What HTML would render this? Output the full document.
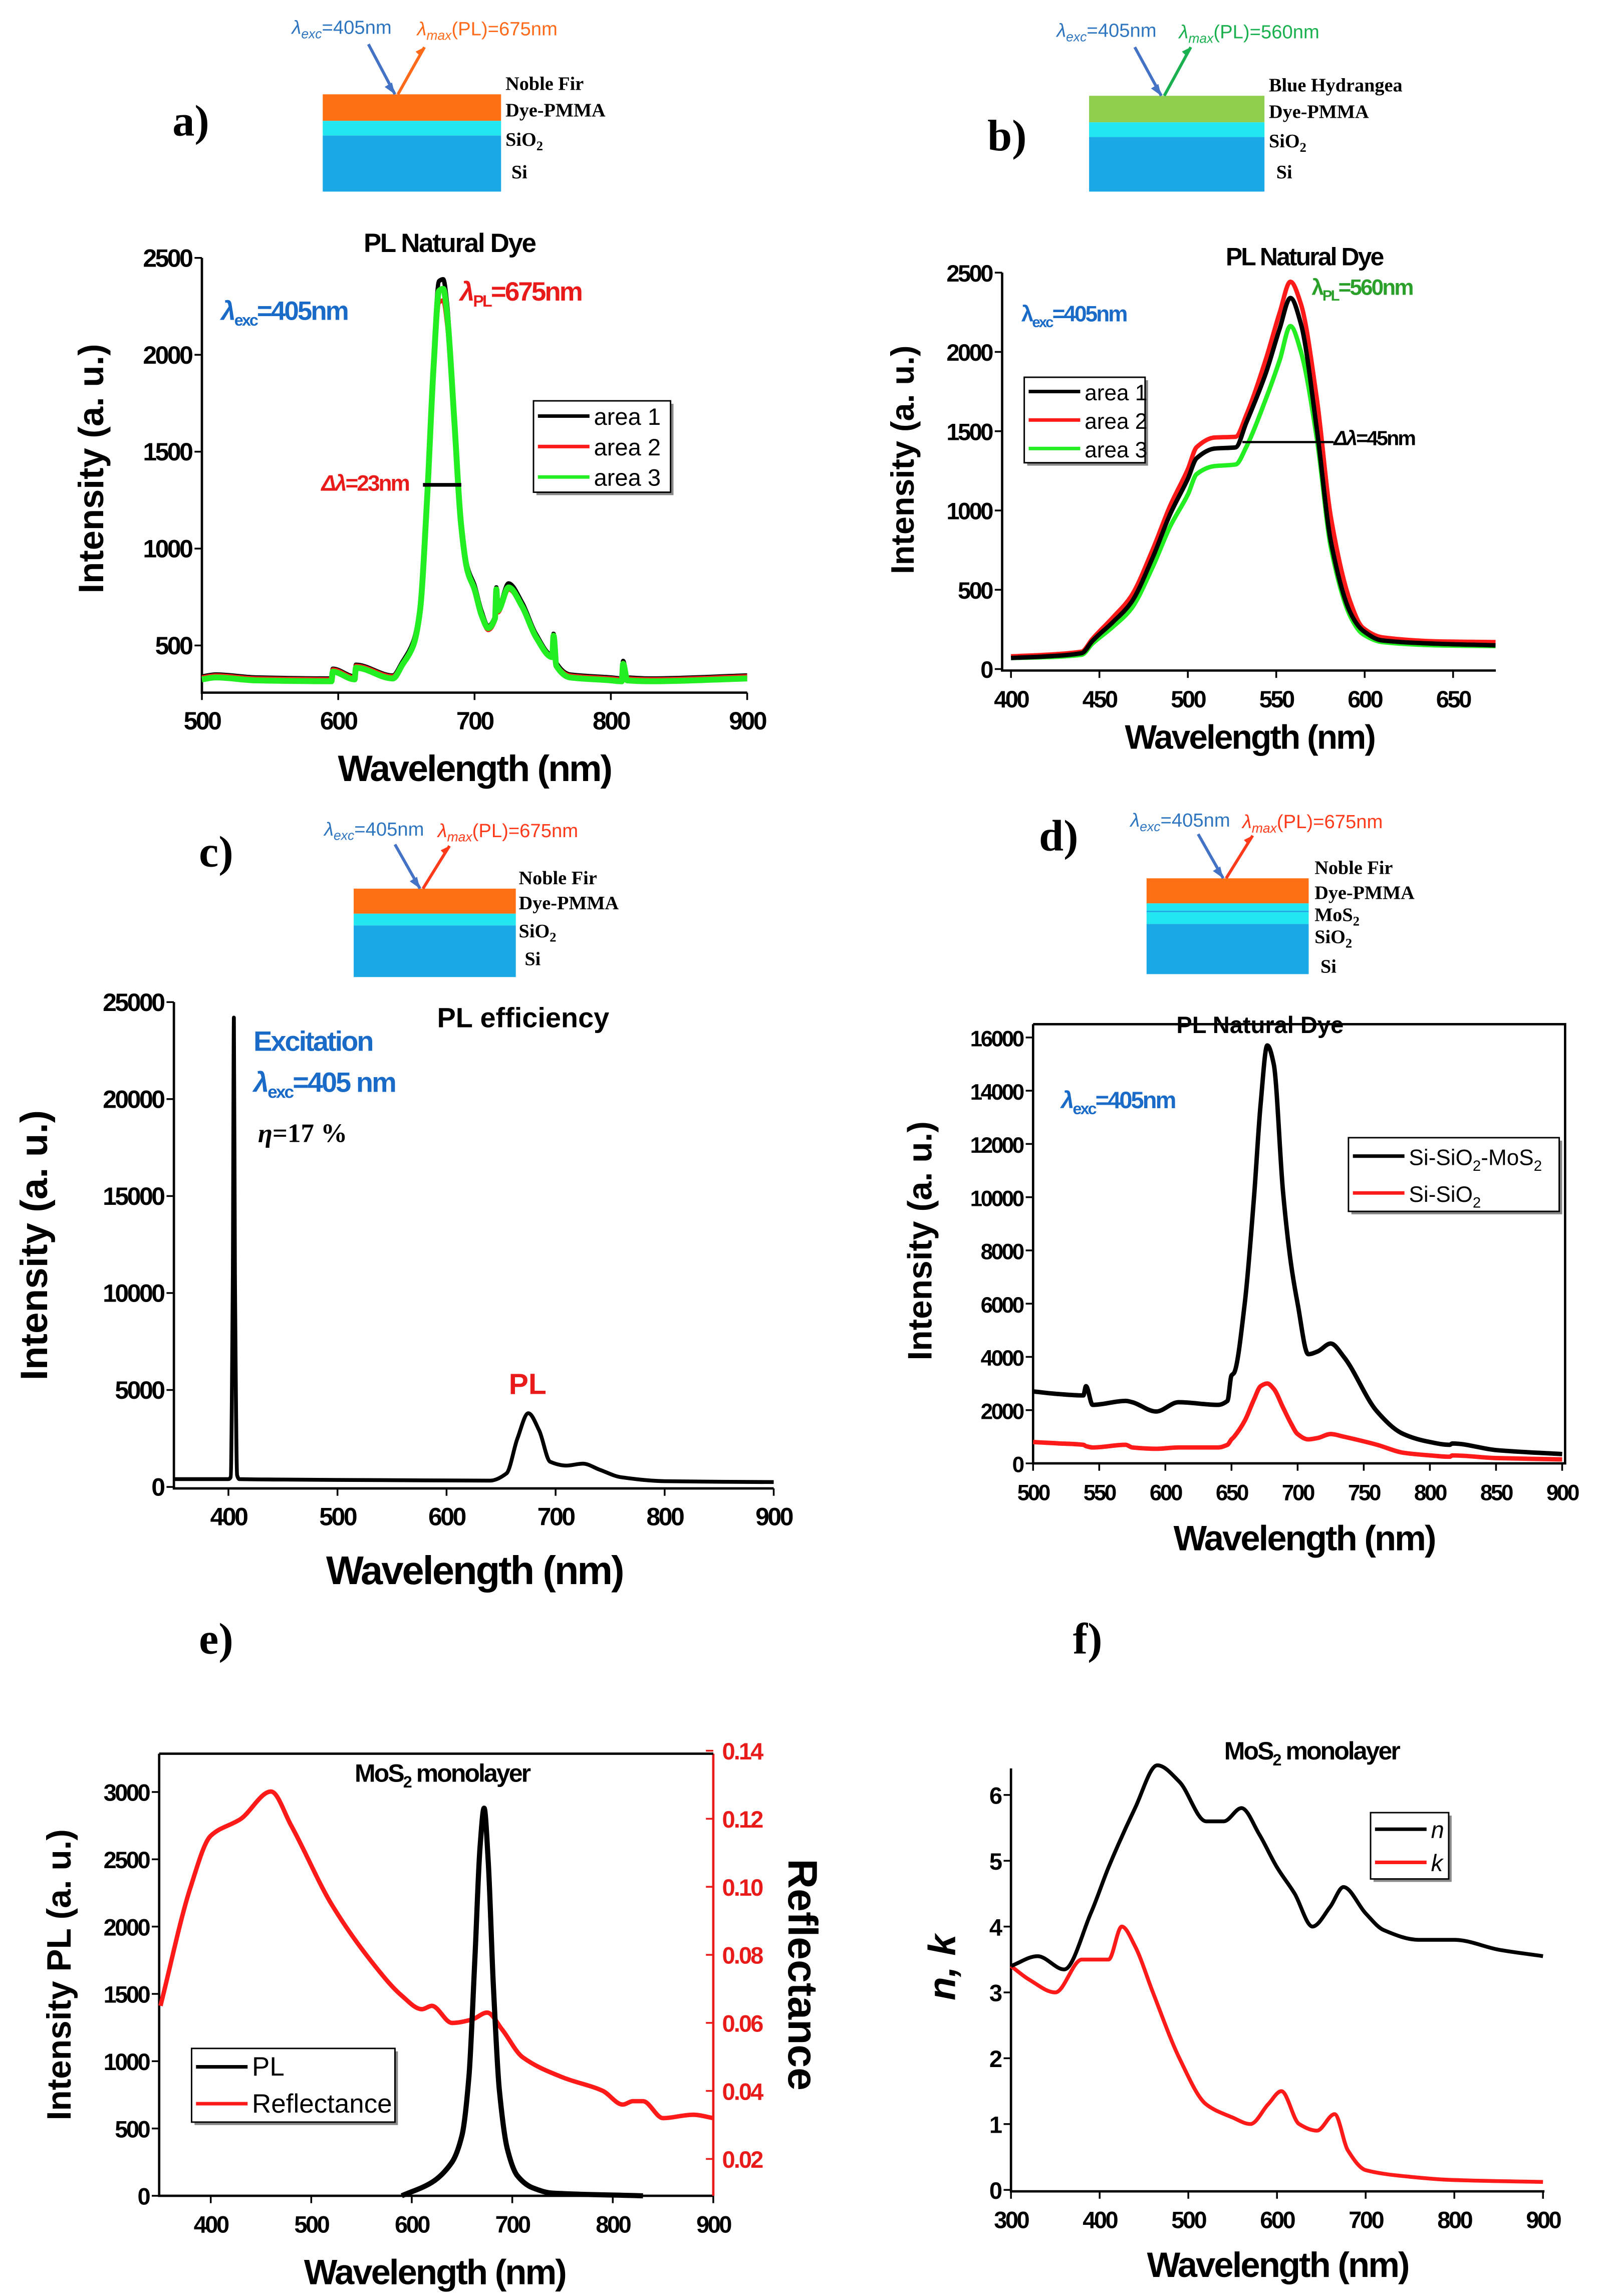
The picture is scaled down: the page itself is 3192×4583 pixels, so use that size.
<!DOCTYPE html>
<html><head><meta charset="utf-8">
<style>
html,body{margin:0;padding:0;background:#fff;}
svg{display:block;font-family:"Liberation Sans",Arial,sans-serif;}
.serif{font-family:"Liberation Serif",serif;}
</style></head>
<body>
<svg id="fig" width="3192" height="4583" viewBox="0 0 1085 1558" preserveAspectRatio="none" xmlns="http://www.w3.org/2000/svg"></svg>
<script>
// ---------- DATA ----------
const aX1=[500,510,540,595,596,612,613,640,647,655,660,665,670,674,677,680,685,690,695,700,705,710,715,716,717,725,735,745,757,758,760,770,800,808,809,812,830,900];
const aY1=[340,350,335,330,380,340,400,345,415,520,700,1250,2000,2380,2390,2250,1700,1150,900,810,680,600,650,800,690,820,720,560,450,560,410,350,335,330,420,335,330,345];
const aY2=[335,345,330,325,375,335,395,340,405,500,670,1200,1900,2270,2280,2150,1650,1120,880,790,660,580,630,780,670,790,700,545,440,550,400,345,330,325,410,330,325,340];
const aY3=[325,335,320,315,365,325,385,330,400,500,680,1230,1950,2330,2340,2200,1680,1130,880,790,660,590,640,790,680,800,700,545,440,550,395,335,320,315,405,320,315,330];
const bX=[400,420,440,446,458,468,480,490,500,505,515,527,533,544,552,558,564,573,581,592,599,610,640,674];
const bY1=[70,80,100,177,300,420,700,977,1200,1330,1390,1398,1552,1862,2150,2340,2175,1508,797,353,243,180,160,150];
const bY2=[80,90,110,190,330,460,750,1030,1260,1400,1460,1465,1600,1950,2250,2442,2300,1700,950,420,260,200,175,170];
const bY3=[70,75,90,160,270,380,640,900,1100,1230,1280,1290,1400,1700,1950,2163,2000,1450,760,330,220,170,150,145];
const cX=[350,400,402,404,405,406,408,410,450,550,640,655,665,675,685,695,710,725,740,760,800,900];
const cY=[400,400,500,11000,24200,11000,600,400,380,350,330,700,2500,3800,2900,1300,1100,1200,900,500,300,250];
const dX=[500,520,538,540,545,570,575,593,610,640,647,650,652,660,667,672,677,682,689,695,700,708,715,725,735,760,780,800,815,817,850,900];
const dBlack=[2700,2600,2550,2900,2200,2350,2300,1950,2300,2200,2350,3300,3400,6000,10000,13500,15700,15000,10200,7500,6000,4100,4200,4500,4000,1950,1100,800,700,750,500,350];
const dRed=[800,750,700,650,600,700,600,550,600,600,700,900,1000,1600,2400,2900,3000,2800,2100,1500,1100,900,950,1100,1000,700,400,300,250,300,200,150];
const ePLx=[590,620,640,650,657,663,668,672,676,681,687,695,705,720,740,830];
const ePLy=[0,100,250,450,900,1800,2600,2880,2500,1600,800,350,150,60,20,0];
const eRx=[350,380,400,430,460,480,520,560,590,610,620,640,660,675,690,710,750,790,810,820,830,850,880,900];
const eRy=[0.065,0.10,0.115,0.12,0.128,0.118,0.095,0.078,0.068,0.064,0.065,0.06,0.061,0.063,0.058,0.05,0.044,0.04,0.036,0.037,0.037,0.032,0.033,0.032];
const fNx=[300,330,360,390,410,440,465,490,520,540,560,580,600,620,640,660,675,700,720,760,800,850,900];
const fNy=[3.4,3.55,3.35,4.2,4.9,5.8,6.45,6.2,5.6,5.6,5.8,5.4,4.9,4.5,4.0,4.3,4.6,4.2,3.95,3.8,3.8,3.65,3.55];
const fKx=[300,320,350,380,410,425,440,460,490,520,550,570,590,605,625,645,665,680,700,750,800,900];
const fKy=[3.4,3.2,3.0,3.5,3.5,4.0,3.7,3.0,2.0,1.3,1.1,1.0,1.3,1.5,1.0,0.9,1.15,0.6,0.3,0.2,0.15,0.12];
const aXt=[500,600,700,800,900], aYt=[500,1000,1500,2000,2500];
const bXt=[400,450,500,550,600,650], bYt=[0,500,1000,1500,2000,2500];
const cXt=[400,500,600,700,800,900], cYt=[0,5000,10000,15000,20000,25000];
const dXt=[500,550,600,650,700,750,800,850,900], dYt=[0,2000,4000,6000,8000,10000,12000,14000,16000];
const eXt=[400,500,600,700,800,900], eYt=[0,500,1000,1500,2000,2500,3000], eRt=[0.02,0.04,0.06,0.08,0.10,0.12,0.14];
const fXt=[300,400,500,600,700,800,900], fYt=[0,1,2,3,4,5,6];

// ---------- HELPERS ----------
const NS="http://www.w3.org/2000/svg";
const svg=document.getElementById('fig');
function mk(tag,attrs,parent){const e=document.createElementNS(NS,tag);for(const k in attrs)e.setAttribute(k,attrs[k]);(parent||svg).appendChild(e);return e;}
function lin(v0,p0,v1,p1){return v=>p0+(v-v0)*(p1-p0)/(v1-v0);}
function txt(x,y,s,opt,name){const t=mk('text',Object.assign({x:x,y:y,'font-size':16,'font-weight':'bold'},opt||{}));t.innerHTML=s;


return t;}
function axes(p){
 const g=mk('g',{});
 
 
 const b=p.box;
 mk('path',{d:`M${b.l},${b.t}V${b.b}H${b.r}`+(p.full?`V${b.t}H${b.l}`:''),fill:'none',stroke:'#000','stroke-width':1.6},g);
 p.xt.forEach(v=>{const x=p.sx(v);mk('line',{x1:x,x2:x,y1:b.b,y2:b.b+5,stroke:'#000','stroke-width':1.2},g);
  const t=txt(x,b.b+25,v,{'text-anchor':'middle','font-size':p.fs||17,'letter-spacing':-1.2},p.name+'-x-tick');g.appendChild(t);});
 p.yt.forEach(v=>{const y=p.sy(v);mk('line',{x1:b.l,x2:b.l-5,y1:y,y2:y,stroke:'#000','stroke-width':1.2},g);
  const t=txt(b.l-7,y+6,v,{'text-anchor':'end','font-size':p.fs||17,'letter-spacing':-1.2},p.name+'-y-tick');g.appendChild(t);});
 return g;}
function smoothPath(P){
 const n=P.length;if(n<2)return '';
 const d=[],m=[];
 for(let i=0;i<n-1;i++)d.push((P[i+1][1]-P[i][1])/(P[i+1][0]-P[i][0]||1e-6));
 m[0]=d[0];m[n-1]=d[n-2];
 for(let i=1;i<n-1;i++)m[i]=(d[i-1]*d[i]<=0)?0:2/(1/d[i-1]+1/d[i]);
 let s='M'+P[0][0].toFixed(1)+','+P[0][1].toFixed(1);
 for(let i=0;i<n-1;i++){const h=(P[i+1][0]-P[i][0])/3;
  s+=`C${(P[i][0]+h).toFixed(1)},${(P[i][1]+m[i]*h).toFixed(1)} ${(P[i+1][0]-h).toFixed(1)},${(P[i+1][1]-m[i+1]*h).toFixed(1)} ${P[i+1][0].toFixed(1)},${P[i+1][1].toFixed(1)}`;}
 return s;}
function line(xs,ys,sx,sy,color,name,w){
 const P=xs.map((x,i)=>[sx(x),sy(ys[i])]);
 const l=mk('path',{d:smoothPath(P),fill:'none',stroke:color,'stroke-width':w||2.4,'stroke-linejoin':'round'});
 
 
 return l;}
function legend(x,y,w,h,items,name,fs){
 const g=mk('g',{});
 
 
 mk('rect',{x:x+2,y:y+2,width:w,height:h,fill:'#888'},g);
 mk('rect',{x:x,y:y,width:w,height:h,fill:'#fff',stroke:'#000','stroke-width':1},g);
 const step=h/items.length;
 items.forEach((it,i)=>{const yy=y+step*(i+0.5);
  mk('line',{x1:x+3,x2:x+38,y1:yy,y2:yy,stroke:it[1],'stroke-width':2.4},g);
  const t=txt(x+41,yy+6,it[0],{'font-weight':'normal','font-size':fs||16},name+'-entry');g.appendChild(t);});
 return g;}
function diagram(d){
 const g=mk('g',{});
 
 
 let y=d.y0;
 d.layers.forEach(L=>{mk('rect',{x:d.x0,y:y,width:d.w,height:L[1],fill:L[0],stroke:'none'},g);y+=L[1];});
 d.labels.forEach(L=>{const t=txt(L[0],L[1],L[2],{'font-size':13,class:'serif'},d.name+'-label');g.appendChild(t);});
 const ax=d.ax;
 mk('line',{x1:ax[0],y1:ax[1],x2:ax[2],y2:ax[3],stroke:'#4472c4','stroke-width':2},g);
 mk('path',{d:`M${ax[2]},${ax[3]}l-7,-5l5,-3z`,fill:'#4472c4'},g);
 mk('line',{x1:ax[2]+2,y1:ax[3],x2:ax[4],y2:ax[5],stroke:d.c2,'stroke-width':2},g);
 mk('path',{d:`M${ax[4]},${ax[5]}l-6,3l3,3z`,fill:d.c2},g);
 const t1=txt(d.t1[0],d.t1[1],'<tspan font-style="italic">λ</tspan><tspan font-size="9" dy="3" font-style="italic">exc</tspan><tspan dy="-3">=405nm</tspan>',{fill:'#2e75c0','font-weight':'normal','font-size':13},d.name+'-exc-text');g.appendChild(t1);
 const t2=txt(d.t2[0],d.t2[1],'<tspan font-style="italic">λ</tspan><tspan font-size="9" dy="3" font-style="italic">max</tspan><tspan dy="-3">(PL)='+d.pl+'</tspan>',{fill:d.c2,'font-weight':'normal','font-size':13},d.name+'-pl-text');g.appendChild(t2);
}
function ylabel(x,cy,s,name,fs,rot){const t=txt(x,cy,s,{'text-anchor':'middle','font-size':fs||24,transform:`rotate(${rot||-90} ${x} ${cy})`},name);return t;}

// panel letters
txt(117,92,'a)',{'font-size':30,class:'serif'},'panel-a-letter');
txt(670,102,'b)',{'font-size':30,class:'serif'},'panel-b-letter');
txt(135,588,'c)',{'font-size':30,class:'serif'},'panel-c-letter');
txt(705,577,'d)',{'font-size':30,class:'serif'},'panel-d-letter');
txt(135,1122,'e)',{'font-size':30,class:'serif'},'panel-e-letter');
txt(728,1122,'f)',{'font-size':30,class:'serif'},'panel-f-letter');

// diagrams
diagram({name:'diagram-a',x0:219,y0:64,w:121,layers:[['#ff7014',18],['#22e6f0',10],['#1aa8e6',38]],
 labels:[[343,61,'Noble Fir'],[343,79,'Dye-PMMA'],[343,99,'SiO<tspan font-size="9" dy="3">2</tspan>'],[347,121,'Si']],
 ax:[250,30,268,64,288,32],c2:'#ff6a1a',t1:[198,23],t2:[283,24],pl:'675nm'});
diagram({name:'diagram-b',x0:739,y0:65,w:119,layers:[['#8fce4f',18],['#22e6f0',10],['#1aa8e6',37]],
 labels:[[861,62,'Blue Hydrangea'],[861,80,'Dye-PMMA'],[861,100,'SiO<tspan font-size="9" dy="3">2</tspan>'],[866,121,'Si']],
 ax:[770,32,788,65,808,32],c2:'#1ab04f',t1:[717,25],t2:[800,26],pl:'560nm'});
diagram({name:'diagram-c',x0:240,y0:603,w:110,layers:[['#ff7014',17],['#22e6f0',8],['#1aa8e6',35]],
 labels:[[352,600,'Noble Fir'],[352,617,'Dye-PMMA'],[352,636,'SiO<tspan font-size="9" dy="3">2</tspan>'],[356,655,'Si']],
 ax:[268,573,285,603,305,574],c2:'#ff3a1a',t1:[220,567],t2:[297,568],pl:'675nm'});
diagram({name:'diagram-d',x0:778,y0:596,w:110,layers:[['#ff7014',17],['#22e6f0',5],['#1aa8e6',1],['#22e6f0',8],['#1aa8e6',34]],
 labels:[[892,593,'Noble Fir'],[892,610,'Dye-PMMA'],[892,625,'MoS<tspan font-size="9" dy="3">2</tspan>'],[892,640,'SiO<tspan font-size="9" dy="3">2</tspan>'],[896,660,'Si']],
 ax:[813,566,830,596,850,567],c2:'#ff3a1a',t1:[767,561],t2:[843,562],pl:'675nm'});

// ---------- PANEL A ----------
{const box={l:137,r:507,t:175,b:470};const sx=lin(500,137,900,507),sy=lin(500,438,2500,175);
axes({name:'plot-a',box,sx,sy,xt:aXt,yt:aYt});
line(aX1,aY1,sx,sy,'#000','series-a-area1',3);
line(aX1,aY2,sx,sy,'#ff1a1a','series-a-area2',3);
line(aX1,aY3,sx,sy,'#22ee22','series-a-area3',4);
txt(305,171,'PL Natural Dye',{'text-anchor':'middle','font-size':18,'letter-spacing':-0.8},'plot-a-title');
ylabel(70,318,'Intensity (a. u.)','plot-a-y-title');
txt(322,530,'Wavelength (nm)',{'text-anchor':'middle','font-size':25,'letter-spacing':-1},'plot-a-x-title');
txt(150,217,'<tspan font-style="italic">λ</tspan><tspan font-size="11" dy="4">exc</tspan><tspan dy="-4">=405nm</tspan>',{fill:'#1a6ac8','font-size':18,'letter-spacing':-1},'plot-a-exc-label');
txt(312,204,'<tspan font-style="italic">λ</tspan><tspan font-size="11" dy="4">PL</tspan><tspan dy="-4">=675nm</tspan>',{fill:'#e81a1a','font-size':18,'letter-spacing':-1},'plot-a-pl-label');
txt(218,333,'<tspan font-style="italic">Δλ</tspan>=23nm',{fill:'#e81a1a','font-size':15,'letter-spacing':-1},'plot-a-fwhm-label');
mk('line',{x1:287,x2:313,y1:329,y2:329,stroke:'#000','stroke-width':2.5});
legend(362,272,93,62,[['area 1','#000'],['area 2','#ff1a1a'],['area 3','#22ee22']],'plot-a-legend');}

// ---------- PANEL B ----------
{const box={l:680,r:1015,t:185,b:455};const sx=lin(400,686,650,986),sy=lin(0,454,2500,185);
axes({name:'plot-b',box,sx,sy,xt:bXt,yt:bYt,fs:16});
line(bX,bY3,sx,sy,'#22ee22','series-b-area3',3);
line(bX,bY2,sx,sy,'#ff1a1a','series-b-area2',3);
line(bX,bY1,sx,sy,'#000','series-b-area1',3);
txt(885,180,'PL Natural Dye',{'text-anchor':'middle','font-size':17,'letter-spacing':-1},'plot-b-title');
ylabel(620,312,'Intensity (a. u.)','plot-b-y-title',22);
txt(848,508,'Wavelength (nm)',{'text-anchor':'middle','font-size':23,'letter-spacing':-1},'plot-b-x-title');
txt(693,218,'λ<tspan font-size="10" dy="4">exc</tspan><tspan dy="-4">=405nm</tspan>',{fill:'#1a6ac8','font-size':15,'letter-spacing':-1},'plot-b-exc-label');
txt(890,200,'λ<tspan font-size="10" dy="4">PL</tspan><tspan dy="-4">=560nm</tspan>',{fill:'#2aa02a','font-size':15,'letter-spacing':-1},'plot-b-pl-label');
txt(905,302,'<tspan font-style="italic">Δλ</tspan>=45nm',{fill:'#000','font-size':14,'letter-spacing':-1},'plot-b-fwhm-label');
mk('line',{x1:843,x2:905,y1:300,y2:300,stroke:'#000','stroke-width':1.5});
legend(695,256,82,58,[['area 1','#000'],['area 2','#ff1a1a'],['area 3','#22ee22']],'plot-b-legend',15);}

// ---------- PANEL C ----------
{const box={l:118,r:525,t:680,b:1010};const sx=lin(400,155,900,525),sy=lin(0,1009,25000,680);
axes({name:'plot-c',box,sx,sy,xt:cXt,yt:cYt,fs:17});
line(cX,cY,sx,sy,'#000','series-c-pl',2.6);
txt(355,697,'PL efficiency',{'text-anchor':'middle','font-size':19},'plot-c-title');
ylabel(32,845,'Intensity (a. u.)','plot-c-y-title',26);
txt(322,1075,'Wavelength (nm)',{'text-anchor':'middle','font-size':27,'letter-spacing':-1},'plot-c-x-title');
txt(172,713,'Excitation',{fill:'#1a6ac8','font-size':19,'letter-spacing':-1},'plot-c-excitation-label');
txt(172,741,'<tspan font-style="italic">λ</tspan><tspan font-size="12" dy="4">exc</tspan><tspan dy="-4">=405 nm</tspan>',{fill:'#1a6ac8','font-size':19,'letter-spacing':-1},'plot-c-exc-label');
txt(175,775,'<tspan font-style="italic">η</tspan>=17 %',{fill:'#000','font-size':18,class:'serif'},'plot-c-eta-label');
txt(358,946,'PL',{fill:'#e81a1a','font-size':20,'text-anchor':'middle'},'plot-c-pl-label');}

// ---------- PANEL D ----------
{const box={l:701,r:1062,t:695,b:993};const sx=lin(500,701,900,1060),sy=lin(0,993,16000,704);
axes({name:'plot-d',box,sx,sy,xt:dXt,yt:dYt,full:true,fs:15});
line(dX,dRed,sx,sy,'#ff1a1a','series-d-si-sio2',3);
line(dX,dBlack,sx,sy,'#000','series-d-si-sio2-mos2',3);
txt(855,701,'PL Natural Dye',{'text-anchor':'middle','font-size':16},'plot-d-title');
ylabel(632,842,'Intensity (a. u.)','plot-d-y-title',23);
txt(885,1052,'Wavelength (nm)',{'text-anchor':'middle','font-size':24,'letter-spacing':-1},'plot-d-x-title');
txt(720,752,'<tspan font-style="italic">λ</tspan><tspan font-size="11" dy="4">exc</tspan><tspan dy="-4">=405nm</tspan>',{fill:'#1a6ac8','font-size':16,'letter-spacing':-1},'plot-d-exc-label');
legend(915,772,143,50,[['Si-SiO<tspan font-size="10" dy="4">2</tspan><tspan dy="-4">-MoS</tspan><tspan font-size="10" dy="4">2</tspan>','#000'],['Si-SiO<tspan font-size="10" dy="4">2</tspan>','#ff1a1a']],'plot-d-legend',15);}

// ---------- PANEL E ----------
{const box={l:108,r:484,t:1190,b:1490};const sx=lin(400,143,900,484),sy=lin(0,1490,3000,1216),sr=lin(0.02,1465,0.14,1188);
axes({name:'plot-e',box,sx,sy,xt:eXt,yt:eYt,fs:16});
mk('line',{x1:484,x2:484,y1:1190,y2:1490,stroke:'#e81a1a','stroke-width':1.6});
mk('line',{x1:108,x2:484,y1:1190,y2:1190,stroke:'#000','stroke-width':1.6});
eRt.forEach(v=>{const y=sr(v);mk('line',{x1:484,x2:479,y1:y,y2:y,stroke:'#e81a1a','stroke-width':1.2});
 txt(490,y+6,v.toFixed(2),{fill:'#e81a1a','font-size':16,'letter-spacing':-1},'plot-e-right-tick');});
line(eRx,eRy,sx,sr,'#ff1a1a','series-e-reflectance',3);
line(ePLx,ePLy,sx,sy,'#000','series-e-pl',3.5);
txt(300,1209,'MoS<tspan font-size="11" dy="4">2</tspan><tspan dy="-4"> monolayer</tspan>',{'text-anchor':'middle','font-size':17,'letter-spacing':-1},'plot-e-title');
ylabel(48,1340,'Intensity PL (a. u.)','plot-e-y-title',23);
ylabel(535,1340,'Reflectance','plot-e-right-y-title',28,90);
txt(295,1550,'Wavelength (nm)',{'text-anchor':'middle','font-size':24,'letter-spacing':-1},'plot-e-x-title');
legend(130,1390,138,50,[['PL','#000'],['Reflectance','#ff1a1a']],'plot-e-legend',18);}

// ---------- PANEL F ----------
{const box={l:686,r:1048,t:1200,b:1487};const sx=lin(300,686,900,1047),sy=lin(0,1486,6,1218);
axes({name:'plot-f',box,sx,sy,xt:fXt,yt:fYt,fs:16});
line(fKx,fKy,sx,sy,'#ff1a1a','series-f-k',2.6);
line(fNx,fNy,sx,sy,'#000','series-f-n',2.6);
txt(890,1194,'MoS<tspan font-size="11" dy="4">2</tspan><tspan dy="-4"> monolayer</tspan>',{'text-anchor':'middle','font-size':17,'letter-spacing':-1},'plot-f-title');
ylabel(648,1335,'<tspan font-style="italic">n, k</tspan>','plot-f-y-title',26);
txt(867,1545,'Wavelength (nm)',{'text-anchor':'middle','font-size':24,'letter-spacing':-1},'plot-f-x-title');
legend(930,1230,53,45,[['<tspan font-style="italic">n</tspan>','#000'],['<tspan font-style="italic">k</tspan>','#ff1a1a']],'plot-f-legend',16);}
</script>
</body></html>
